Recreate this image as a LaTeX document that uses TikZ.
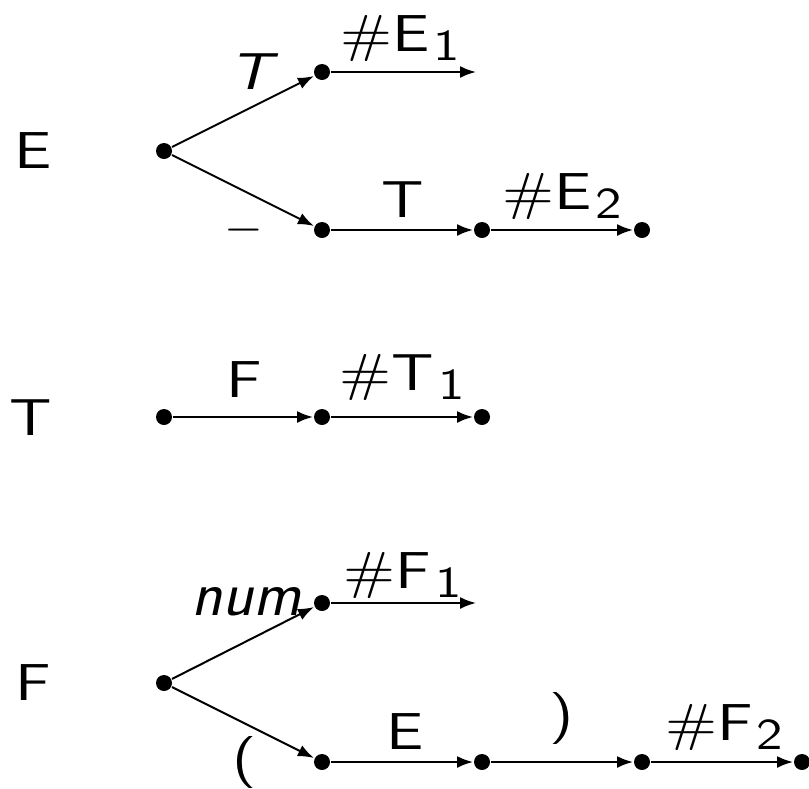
\documentclass[tikz,border=0pt]{standalone}
\usepackage{fontspec}
\newfontfamily\lblfont{lmsans10-regular.otf}[FakeStretch=1.2]
\newfontfamily\lblitfont{lmsans10-oblique.otf}[FakeStretch=1.2]
\newcommand{\idx}[1]{\kern2pt\raisebox{-4.5pt}{\fontsize{22}{24}\selectfont #1}}
\usetikzlibrary{arrows.meta}
\begin{document}
\begin{tikzpicture}[x=0.5pt, y=-0.5pt, line width=1pt,
  dot/.style={circle, fill, inner sep=0pt, minimum size=8pt},
  arr/.style={-{Latex[length=8pt, width=6pt]}},
  lbl/.style={font=\lblfont\fontsize{26}{30}\selectfont, inner sep=0pt}]
\useasboundingbox (0,0) rectangle (809,788);

% E
\node[lbl] (E) at (33,151) {E};
\node[dot] (e0) at (164,151) {};
\node[dot] (e1) at (322,72) {};
\coordinate (e2) at (476,72);
\node[dot] (e3) at (322,230) {};
\node[dot] (e4) at (482,230) {};
\node[dot] (e5) at (642,230) {};

\draw[arr] (e0) -- (e1) node[lbl, midway, shift={(8,-39.5)}] (l1) {\lblitfont T};
\draw[arr] (e1) -- (e2) node[lbl, midway, shift={(-3,-34)}] (l2) {\#E\idx{1}};
\draw[arr] (e0) -- (e3) node[lbl, midway, shift={(1,39.5)}] (l3) {$-$};
\draw[arr] (e3) -- (e4) node[lbl, midway, shift={(1,-30.5)}] (l4) {T};
\draw[arr] (e4) -- (e5) node[lbl, midway, shift={(0,-34)}] (l5) {\#E\idx{2}};

% T
\node[lbl] (T) at (31,418) {T};
\node[dot] (t0) at (164,417) {};
\node[dot] (t1) at (322,417) {};
\node[dot] (t2) at (482,417) {};

\draw[arr] (t0) -- (t1) node[lbl, midway, shift={(1,-37)}] (l6) {F};
\draw[arr] (t1) -- (t2) node[lbl, midway, shift={(0,-40)}] (l7) {\#T\idx{1}};

% F
\node[lbl] (F) at (33,683) {F};
\node[dot] (f0) at (164,683) {};
\node[dot] (f1) at (322,603) {};
\coordinate (f2) at (476,603);
\node[dot] (f3) at (322,762) {};
\node[dot] (f4) at (482,762) {};
\node[dot] (f5) at (642,762) {};
\node[dot] (f6) at (802,762) {};

\draw[arr] (f0) -- (f1) node[lbl, midway, shift={(3,-41)}, font=\sffamily\itshape\fontsize{32}{36}\selectfont] (l8) {num};
\draw[arr] (f1) -- (f2) node[lbl, midway, shift={(-1,-28)}] (l9) {\#F\idx{1}};
\draw[arr] (f0) -- (f3) node[lbl, midway, shift={(2,40)}] (l10) {(};
\draw[arr] (f3) -- (f4) node[lbl, midway, shift={(3,-30.5)}] (l11) {E};
\draw[arr] (f4) -- (f5) node[lbl, midway, shift={(0,-44)}] (l12) {)};
\draw[arr] (f5) -- (f6) node[lbl, midway, shift={(2,-35)}] (l13) {\#F\idx{2}};
\end{tikzpicture}
\end{document}
